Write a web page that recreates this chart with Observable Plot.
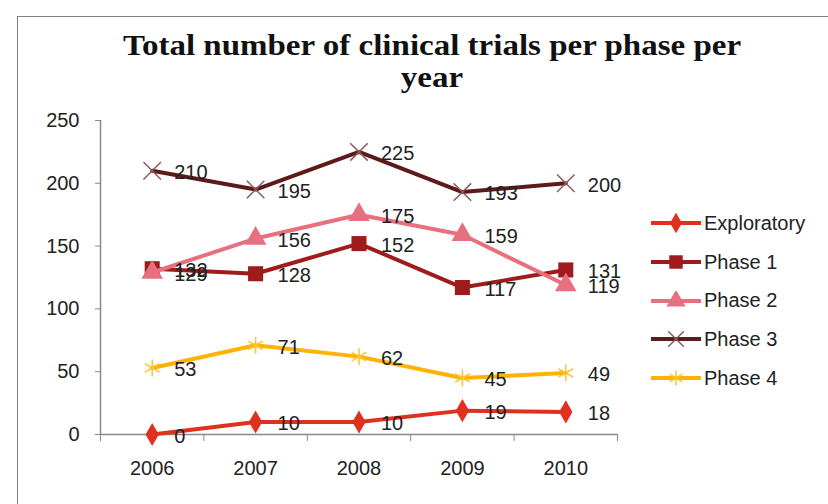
<!DOCTYPE html>
<html>
<head>
<meta charset="utf-8">
<script src="https://cdn.jsdelivr.net/npm/d3@7"></script>
<script src="https://cdn.jsdelivr.net/npm/@observablehq/plot@0.6"></script>
<style>
  html, body { margin: 0; padding: 0; background: #fff; }
  #wrap { position: relative; width: 828px; height: 504px; overflow: hidden; background: #fff; }
  #frame { position: absolute; left: 17px; top: 16px; width: 900px; height: 600px; border: 1.5px solid #808080; }
  #title { position: absolute; left: 17px; width: 830px; top: 29px; text-align: center;
           font-family: "Liberation Serif", serif; font-weight: bold; font-size: 30px; line-height: 32px; color: #111;
           transform: scaleX(1.1); transform-origin: 415px 0; }
  #chart { position: absolute; left: 0; top: 0; }
  #legend { position: absolute; left: 651px; top: 204px; font-family: "Liberation Sans", Arial, sans-serif; font-size: 20px; color: #222; }
  .item { display: flex; align-items: center; height: 38.7px; }
  .item svg { display: block; margin-right: 3px; }
  g[aria-label="y-axis tick"], g[aria-label="x-axis tick"] { stroke: #888; }
</style>
</head>
<body>
<div id="wrap">
  <div id="frame"></div>
  <div id="title">Total number of clinical trials per phase per<br>year</div>
  <div id="chart"></div>
  <div id="legend"></div>
</div>
<script>
const years = [2006, 2007, 2008, 2009, 2010];
const seriesNames = ["Exploratory", "Phase 1", "Phase 2", "Phase 3", "Phase 4"];
const exploratory = [0, 10, 10, 19, 18];
const phase1 = [132, 128, 152, 117, 131];
const phase2 = [129, 156, 175, 159, 119];
const phase3 = [210, 195, 225, 193, 200];
const phase4 = [53, 71, 62, 45, 49];
const yTicks = [0, 50, 100, 150, 200, 250];

const lineColors = ["#E0301E", "#A01C1C", "#E8707E", "#5E1A1A", "#FFB300"];
const markColors = ["#E0301E", "#A01C1C", "#E8707E", "#8C5C5C", "#FFC233"];
const symbols = ["diamond", "square", "triangle", "times", "asterisk"];
const filled = [true, true, true, false, false];
const radii = [7, 8.5, 8, 8, 8];

const values = [exploratory, phase1, phase2, phase3, phase4];
const rows = [];
seriesNames.forEach((s, i) => years.forEach((yr, j) => rows.push({series: s, idx: i, year: yr, value: values[i][j]})));

const boundaries = [2005.5, 2006.5, 2007.5, 2008.5, 2009.5, 2010.5];

const marks = [
  Plot.axisY({ticks: yTicks, tickSize: 5, tickPadding: 16, fontSize: 20, label: null}),
  Plot.axisX({ticks: boundaries, tickSize: 7, tickFormat: () => "", label: null}),
  Plot.axisX({ticks: years, tickSize: 0, tickPadding: 26, tickFormat: d => String(d), fontSize: 20, label: null}),
  Plot.ruleY([0], {stroke: "#888", strokeWidth: 1.5}),
  Plot.ruleX([2005.5], {stroke: "#888", strokeWidth: 1.5})
];
seriesNames.forEach((s, i) => {
  const d = rows.filter(r => r.idx === i);
  marks.push(Plot.line(d, {x: "year", y: "value", stroke: lineColors[i], strokeWidth: 4}));
  marks.push(Plot.dot(d, {x: "year", y: "value", symbol: () => symbols[i], r: radii[i],
    fill: filled[i] ? markColors[i] : "none", stroke: filled[i] ? "none" : markColors[i], strokeWidth: 1.5}));
});
marks.push(Plot.text(rows, {x: "year", y: "value", text: d => String(d.value), dx: 22, dy: 2,
  textAnchor: "start", fill: "#222", fontSize: 20}));

const chart = Plot.plot({
  width: 828, height: 504,
  marginLeft: 100, marginRight: 211, marginTop: 120, marginBottom: 70,
  style: {fontFamily: "Liberation Sans, Arial, sans-serif", fontSize: "20px", color: "#222", background: "transparent"},
  x: {domain: [2005.5, 2010.5], axis: null, label: null},
  y: {domain: [0, 250], axis: null, label: null},
  marks
});
document.getElementById("chart").appendChild(chart);

// legend
const legend = d3.select("#legend");
const symMap = {diamond: d3.symbolDiamond, square: d3.symbolSquare, triangle: d3.symbolTriangle, times: d3.symbolTimes, asterisk: d3.symbolAsterisk};
seriesNames.forEach((s, i) => {
  const item = legend.append("div").attr("class", "item");
  const svg = item.append("svg").attr("width", 50).attr("height", 20);
  svg.append("line").attr("x1", 0).attr("x2", 50).attr("y1", 10).attr("y2", 10)
    .attr("stroke", lineColors[i]).attr("stroke-width", 4);
  svg.append("path").attr("transform", "translate(25,10)")
    .attr("d", d3.symbol(symMap[symbols[i]], radii[i] * radii[i] * Math.PI * 0.8)())
    .attr("fill", filled[i] ? markColors[i] : "none")
    .attr("stroke", filled[i] ? "none" : markColors[i]).attr("stroke-width", 1.5);
  item.append("span").text(s);
});
</script>
</body>
</html>
